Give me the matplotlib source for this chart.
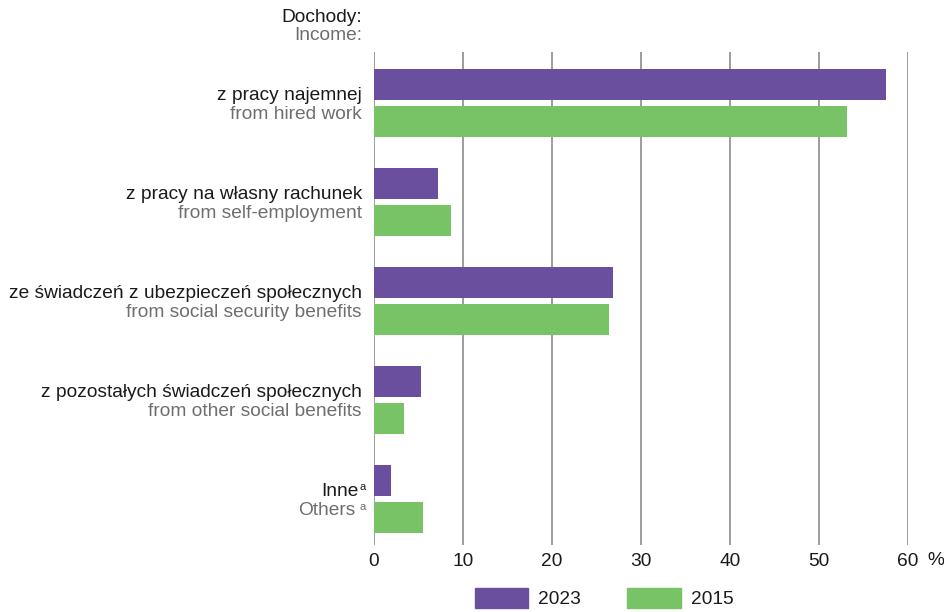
import matplotlib.pyplot as plt
from matplotlib.patches import Patch
from matplotlib.transforms import blended_transform_factory

# data
labels_pl = ['z pracy najemnej', 'z pracy na własny rachunek',
             'ze świadczeń z ubezpieczeń społecznych',
             'z pozostałych świadczeń społecznych', 'Inne']
labels_en = ['from hired work', 'from self-employment',
             'from social security benefits', 'from other social benefits',
             'Others']
values_2023 = [57.5, 7.2, 26.9, 5.3, 1.9]
values_2015 = [53.1, 8.6, 26.4, 3.4, 5.5]
xticks = [0, 10, 20, 30, 40, 50, 60]

purple = '#6b4f9f'
green = '#77c366'
dark = '#1a1a1a'
grey = '#6e6e70'
fs = 13.8

plt.rcParams['font.family'] = ['Liberation Sans', 'DejaVu Sans']

fig = plt.figure(figsize=(9.45, 6.12), dpi=100)
W, H = 945, 612
ax = fig.add_axes([374 / W, 1 - 545 / H, 534 / W, 493 / H])

y = list(range(len(labels_pl)))
h = 0.313
off = 0.187
ax.barh([i - off for i in y], values_2023, height=h, color=purple, zorder=3)
ax.barh([i + off for i in y], values_2015, height=h, color=green, zorder=3)

ax.set_xlim(0, 60)
ax.set_ylim(4.465, -0.515)
ax.set_xticks(xticks)
ax.set_xticklabels([str(t) for t in xticks], fontsize=fs, color=dark)
ax.set_yticks([])
ax.tick_params(axis='x', length=0, pad=6)
for s in ax.spines.values():
    s.set_visible(False)
for t in xticks:
    ax.axvline(t, color='#8c8c8c', lw=1.2, zorder=1)

ax.text(1.052, -0.031, '%', transform=ax.transAxes, ha='center', va='center',
        fontsize=fs, color=dark)

tr = blended_transform_factory(ax.transAxes, ax.transData)
xl = -12 / 534
for i in y:
    if labels_pl[i] == 'Inne':
        ax.text(xl - 3 / 534, i - 0.08, labels_pl[i], transform=tr, ha='right',
                va='center', fontsize=fs, color=dark)
        ax.text(xl + 4 / 534, i - 0.12, 'a', transform=tr, ha='right',
                va='center', fontsize=8, color=dark)
        ax.text(xl - 7 / 534, i + 0.12, labels_en[i], transform=tr, ha='right',
                va='center', fontsize=fs, color=grey)
        ax.text(xl + 4 / 534, i + 0.08, 'a', transform=tr, ha='right',
                va='center', fontsize=8, color=grey)
    else:
        ax.text(xl, i - 0.08, labels_pl[i], transform=tr, ha='right',
                va='center', fontsize=fs, color=dark)
        ax.text(xl, i + 0.12, labels_en[i], transform=tr, ha='right',
                va='center', fontsize=fs, color=grey)

fig.text(362 / W, 1 - 17 / H, 'Dochody:', ha='right', va='center',
         fontsize=fs, color=dark)
fig.text(362 / W, 1 - 35 / H, 'Income:', ha='right', va='center',
         fontsize=fs, color=grey)

handles = [Patch(color=purple, label='2023'), Patch(color=green, label='2015')]
fig.legend(handles=handles, loc='upper center', bbox_to_anchor=(604 / W, 1 - 578 / H),
           ncol=2, frameon=False, fontsize=fs, handlelength=2.8, handleheight=1.25,
           handletextpad=0.52, columnspacing=2.4, borderpad=0, labelcolor=dark)

fig.savefig('out.png', dpi=100)
